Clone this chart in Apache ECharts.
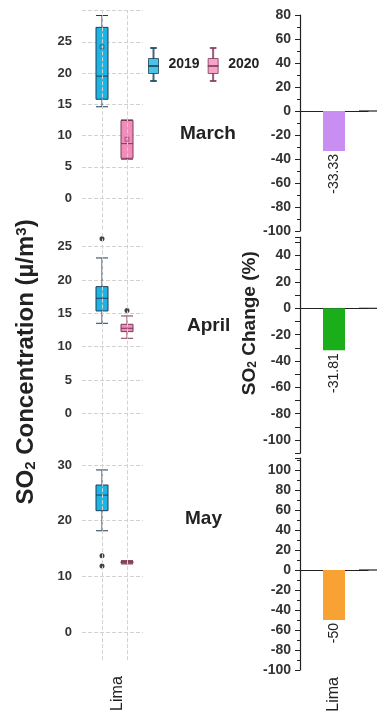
<!DOCTYPE html>
<html>
<head>
<meta charset="utf-8">
<script src="https://cdn.jsdelivr.net/npm/echarts@6/dist/echarts.min.js"></script>
<style>
  html, body { margin: 0; padding: 0; background: #fff; }
  #chart { width: 377px; height: 717px; }
</style>
</head>
<body>
<div id="chart"></div>
<script>
// ---- data ----
const months = ['March', 'April', 'May'];
const stations = ['Lima'];
const years = ['2019', '2020'];
// [min, Q1, median, Q3, max]
const box2019 = [
  [14.6, 15.8, 19.5, 27.3, 29.2],
  [13.5, 15.35, 17.25, 19.0, 23.3],
  [18.2, 21.8, 24.6, 26.4, 29.1]
];
const box2020 = [
  [6.2, 6.35, 8.7, 12.4, 12.5],
  [11.25, 12.25, 12.75, 13.35, 14.6],
  [12.25, 12.4, 12.55, 12.7, 12.85]
];
const mean2019 = [24.2, null, null];
const mean2020 = [9.4, null, null];
const outliers2019 = [[], [26.2], [13.7, 11.9]];
const outliers2020 = [[], [15.4], []];
const changePct = [-33.33, -31.81, -50];
// axis ranges and label steps
const concRange = [[-5, 30], [-5, 27], [-5, 33]];
const concStep = [5, 5, 10];
const changeRange = [[-100, 80], [-110, 54], [-100, 112]];
const changeInterval = [20, 10, 20];

// ---- layout / style ----
const font = 'Liberation Sans, Arial, sans-serif';
const leftBoxes = [
  { top: 10.5, height: 218.75 },
  { top: 233.3, height: 213.3 },
  { top: 448.2, height: 212 }
];
const rightBoxes = [
  { top: 15, height: 216 },
  { top: 237.2, height: 216 },
  { top: 458, height: 212 }
];
const monthPos = [
  { left: 180, top: 124 },
  { left: 187, top: 316 },
  { left: 185, top: 509 }
];
const yearStyle = [
  { color: '#1CB5E3', borderColor: '#1f3e55' },
  { color: '#F18DBB', borderColor: '#7b3a55' }
];
const barColors = ['#C88EF2', '#1AAF1A', '#F7A232'];
const gridLine = '#d2d2d2';

const boxIcon = 'path://M2,0H8V1H2Z M4.5,1H5.5V11H4.5Z M0,11H10V26H0Z M0,18H10V19H0Z M4.5,26H5.5V33H4.5Z M2,33H8V34H2Z';

const grid = [], xAxis = [], yAxis = [], series = [];

months.forEach(function (m, i) {
  // left panel: concentration boxes
  grid.push({ left: 82, width: 61, top: leftBoxes[i].top, height: leftBoxes[i].height });
  xAxis.push({ gridIndex: i, type: 'value', min: 0.2, max: 2.64, show: false });
  const step = concStep[i];
  const top = concRange[i][1];
  yAxis.push({
    gridIndex: i, type: 'value',
    min: concRange[i][0], max: top, interval: 5,
    axisLine: { show: false }, axisTick: { show: false },
    axisLabel: {
      margin: 10, fontSize: 13, fontWeight: 'bold', color: '#333', fontFamily: font,
      formatter: function (v) { return v >= 0 && v < top && v % step === 0 ? String(v) : ''; }
    },
    splitLine: {
      show: true, showMinLine: false, showMaxLine: top % 5 === 0,
      lineStyle: { type: 'dashed', width: 1, color: step === 10 ? [gridLine, 'rgba(0,0,0,0)'] : gridLine }
    }
  });

  series.push({
    type: 'boxplot', name: m, xAxisIndex: i, yAxisIndex: i,
    boxWidth: [12, 12],
    encode: { x: 0, y: [1, 2, 3, 4, 5] },
    itemStyle: { borderWidth: 1 },
    data: [
      { value: [1].concat(box2019[i]), itemStyle: yearStyle[0] },
      { value: [2].concat(box2020[i]), itemStyle: yearStyle[1] }
    ],
    markLine: {
      silent: true, symbol: 'none', label: { show: false },
      lineStyle: { type: 'dashed', color: gridLine, width: 1 },
      data: [1, 2].map(function (x) {
        return [{ coord: [x, concRange[i][0]] }, { coord: [x, concRange[i][1]] }];
      })
    },
    z: 3
  });

  const pts = outliers2019[i].map(function (v) { return [1, v]; })
    .concat(outliers2020[i].map(function (v) { return [2, v]; }));
  series.push({
    type: 'scatter', xAxisIndex: i, yAxisIndex: i, data: pts,
    symbolSize: 5, itemStyle: { color: '#111' }, z: 4
  });

  const means = [];
  if (mean2019[i] != null) means.push([1, mean2019[i]]);
  if (mean2020[i] != null) means.push([2, mean2020[i]]);
  series.push({
    type: 'scatter', xAxisIndex: i, yAxisIndex: i, data: means,
    symbol: 'rect', symbolSize: 4,
    itemStyle: { color: 'rgba(0,0,0,0)', borderColor: 'rgba(40,40,60,0.55)', borderWidth: 1 }, z: 5
  });
});

months.forEach(function (m, i) {
  // right panel: percentage change bars
  const g = 3 + i;
  grid.push({ left: 300, width: 68, top: rightBoxes[i].top, height: rightBoxes[i].height });
  xAxis.push({
    gridIndex: g, type: 'category', data: stations,
    axisLine: {
      onZero: true, lineStyle: { color: '#222', width: 1.2 },
      symbol: ['none', 'rect'], symbolSize: [1.2, 18]
    },
    axisTick: { show: false }, axisLabel: { show: false }
  });
  yAxis.push({
    gridIndex: g, type: 'value',
    min: changeRange[i][0], max: changeRange[i][1], interval: changeInterval[i],
    axisLine: { show: true, lineStyle: { color: '#222', width: 1.2 } },
    axisTick: { show: true, length: 5, lineStyle: { color: '#222' } },
    minorTick: { show: changeInterval[i] === 20, splitNumber: 2, length: 3, lineStyle: { color: '#222' } },
    splitLine: { show: false },
    axisLabel: {
      margin: 9, fontSize: 14, fontWeight: 'bold', color: '#333', fontFamily: font,
      formatter: function (v) { return v % 20 === 0 ? String(v) : ''; }
    }
  });
  series.push({
    type: 'bar', xAxisIndex: g, yAxisIndex: g,
    data: [changePct[i]], barWidth: 22,
    itemStyle: { color: barColors[i] },
    label: {
      show: true, position: 'bottom', distance: 3, rotate: 90,
      align: 'right', verticalAlign: 'middle',
      fontSize: 14, color: '#222', fontFamily: font
    }
  });
});

// station label under the left bottom panel (own grid, centred between the boxes)
grid.push({ left: 88, width: 60, top: leftBoxes[2].top, height: leftBoxes[2].height });
yAxis.push({ gridIndex: 6, type: 'value', show: false });
xAxis.push({
  gridIndex: 6, type: 'category', data: stations, position: 'bottom',
  axisLine: { show: false }, axisTick: { show: false },
  axisLabel: { rotate: 90, margin: 16, fontSize: 16, color: '#222', fontFamily: font }
});
// station label under the right bottom panel
xAxis.push({
  gridIndex: 5, type: 'category', data: stations, position: 'bottom',
  axisLine: { show: false }, axisTick: { show: false },
  axisLabel: { rotate: 90, margin: 7, fontSize: 16, color: '#222', fontFamily: font }
});

// axis titles
yAxis[1].name = '{t|SO}{s|2}{t| Concentration (\u00b5/m}{p|3}{t|)}';
yAxis[1].nameLocation = 'middle';
yAxis[1].nameGap = 44;
yAxis[1].nameTextStyle = {
  fontFamily: font, color: '#222', padding: [0, 44, 0, 0],
  rich: {
    t: { fontSize: 24, fontWeight: 'bold', fontFamily: font, color: '#222' },
    s: { fontSize: 15, fontWeight: 'bold', fontFamily: font, color: '#222', verticalAlign: 'bottom' },
    p: { fontSize: 15, fontWeight: 'bold', fontFamily: font, color: '#222', verticalAlign: 'top' }
  }
};
yAxis[4].name = '{t|SO}{s|2}{t| Change (%)}';
yAxis[4].nameLocation = 'middle';
yAxis[4].nameGap = 40;
yAxis[4].nameTextStyle = {
  fontFamily: font, color: '#222', padding: [0, 0, 0, 44],
  rich: {
    t: { fontSize: 19, fontWeight: 'bold', fontFamily: font, color: '#222' },
    s: { fontSize: 12, fontWeight: 'bold', fontFamily: font, color: '#222', verticalAlign: 'bottom' }
  }
};

// legend carriers
years.forEach(function (y, k) {
  series.push({ type: 'scatter', name: y, xAxisIndex: 0, yAxisIndex: 0, data: [], itemStyle: { color: yearStyle[k].color } });
});

const chart = echarts.init(document.getElementById('chart'));
chart.setOption({
  animation: false,
  textStyle: { fontFamily: font },
  title: months.map(function (m, i) {
    return {
      text: m, left: monthPos[i].left, top: monthPos[i].top, padding: 0,
      textStyle: { fontSize: 19, fontWeight: 'bold', color: '#222', fontFamily: font }
    };
  }),
  legend: {
    left: 148, top: 47, padding: 0, itemGap: 8,
    itemWidth: 10, itemHeight: 34, selectedMode: false,
    textStyle: { fontSize: 14, fontWeight: 'bold', color: '#222', fontFamily: font, padding: [0, 0, 0, 5] },
    data: years.map(function (y, k) {
      return { name: y, icon: boxIcon, itemStyle: { color: yearStyle[k].color, borderColor: yearStyle[k].borderColor, borderWidth: 1 } };
    })
  },
  grid: grid,
  xAxis: xAxis,
  yAxis: yAxis,
  series: series
});
</script>
</body>
</html>
